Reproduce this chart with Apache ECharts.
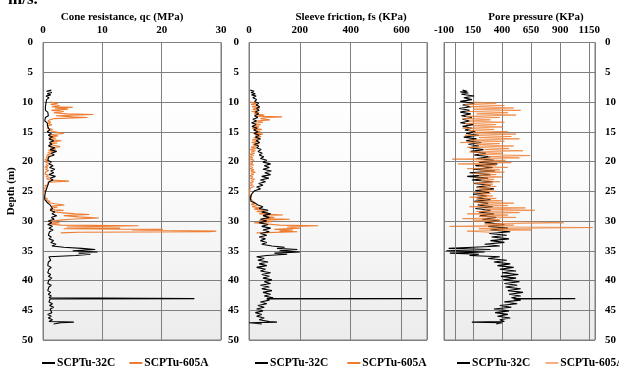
<!DOCTYPE html>
<html>
<head>
<meta charset="utf-8">
<script src="https://cdn.jsdelivr.net/npm/echarts@6/dist/echarts.min.js"></script>
<style>html,body{margin:0;padding:0;background:#fff}#c{width:619px;height:370px}</style>
</head>
<body>
<div id="c"></div>
<script>
const soundings = ['SCPTu-32C', 'SCPTu-605A'];
const panelTitles = ['Cone resistance, qc (MPa)', 'Sleeve friction, fs (KPa)', 'Pore pressure (KPa)'];
const depthLabel = 'Depth (m)';

// [depth (m), value]
const qc32C = [[8.0,1.4],[8.2,0.6],[8.4,1.5],[8.6,0.7],[8.8,1.3],[9.0,0.5],[9.3,1.0],[9.6,0.6],[9.9,0.9],[10.2,0.5],[10.5,0.8],[10.8,0.4],[11.1,0.7],[11.4,0.4],[11.7,0.8],[12.0,0.5],[12.3,0.9],[12.6,0.4],[12.9,0.6],[13.2,0.3],[13.5,0.7],[13.8,0.4],[14.1,0.8],[14.4,0.5],[14.7,1.1],[15.0,0.7],[15.3,1.4],[15.6,0.9],[15.9,1.6],[16.2,1.0],[16.5,1.8],[16.8,1.1],[17.1,1.5],[17.4,0.9],[17.7,2.0],[18.0,1.2],[18.3,2.3],[18.6,1.4],[18.9,1.9],[19.2,1.0],[19.5,1.3],[19.8,0.8],[20.1,1.4],[20.4,1.0],[20.7,1.7],[21.0,1.1],[21.3,2.0],[21.6,1.3],[21.9,1.8],[22.2,1.0],[22.5,2.1],[22.8,1.2],[23.1,1.7],[23.4,1.0],[23.7,1.3],[24.0,0.8],[24.3,1.0],[24.6,0.6],[24.9,0.7],[25.2,0.4],[25.5,0.5],[25.8,0.3],[26.1,0.4],[26.4,0.3],[26.7,0.6],[27.0,0.8],[27.3,1.2],[27.6,1.0],[27.9,1.6],[28.2,1.2],[28.5,2.0],[28.8,1.5],[29.1,2.3],[29.4,1.4],[29.7,1.9],[30.0,0.9],[30.3,1.5],[30.6,0.8],[30.9,1.6],[31.2,1.0],[31.5,1.7],[31.8,1.1],[32.1,1.3],[32.4,0.9],[32.7,1.4],[33.0,1.0],[33.3,1.8],[33.6,1.3],[33.9,2.2],[34.2,1.5],[34.4,3.5],[34.6,6.5],[34.8,8.8],[35.0,5.0],[35.2,9.2],[35.4,6.0],[35.6,8.0],[35.8,5.5],[36.0,1.0],[36.3,0.8],[36.6,1.3],[36.9,0.9],[37.2,1.2],[37.5,0.8],[37.8,1.4],[38.1,1.0],[38.4,1.2],[38.7,0.8],[39.0,1.3],[39.3,0.9],[39.6,1.5],[39.9,1.0],[40.2,1.3],[40.5,0.8],[40.8,1.4],[41.1,1.0],[41.4,1.2],[41.7,0.8],[42.0,1.3],[42.3,0.9],[42.6,1.4],[42.9,1.0],[43.0,1.2],[43.05,25.5],[43.1,1.2],[43.3,1.5],[43.6,1.0],[43.9,1.6],[44.2,1.1],[44.5,1.8],[44.8,1.2],[45.1,1.0],[45.4,1.5],[45.7,0.8],[46.0,1.4],[46.3,0.9],[46.6,1.6],[46.9,1.0],[47.0,5.2],[47.1,3.0],[47.3,1.8]];

const qc605A = [[10.0,1.2],[10.2,2.5],[10.4,1.3],[10.6,2.8],[10.8,1.5],[10.9,5.0],[11.0,2.0],[11.2,4.2],[11.4,1.4],[11.6,3.5],[11.8,1.8],[12.0,4.0],[12.1,8.5],[12.3,2.2],[12.5,5.0],[12.6,7.5],[12.8,1.8],[13.0,1.2],[13.2,0.8],[13.4,1.3],[13.6,0.7],[13.8,1.5],[14.0,0.9],[14.2,1.2],[14.4,0.7],[14.6,1.6],[14.8,1.0],[15.0,2.0],[15.3,3.5],[15.5,1.2],[15.7,2.5],[15.9,1.0],[16.1,2.2],[16.3,1.1],[16.5,3.1],[16.7,1.3],[16.9,2.4],[17.1,1.0],[17.3,2.0],[17.5,2.9],[17.7,1.2],[17.9,2.2],[18.1,0.9],[18.3,1.8],[18.5,0.8],[18.7,1.5],[18.9,0.6],[19.1,1.2],[19.3,0.5],[19.5,0.9],[19.7,0.3],[19.9,0.8],[20.1,0.4],[20.3,1.0],[20.5,0.5],[20.7,0.9],[20.9,0.3],[21.1,0.8],[21.3,0.4],[21.5,1.0],[21.7,0.5],[21.9,0.8],[22.1,0.3],[22.3,0.9],[22.5,0.5],[22.7,1.1],[22.9,0.6],[23.1,1.2],[23.3,4.4],[23.5,0.8],[23.7,0.5],[23.9,0.9],[24.1,0.3],[24.3,0.7],[24.5,0.2],[24.7,0.6],[24.9,0.2],[25.1,0.5],[25.3,0.1],[25.5,0.4],[25.7,0.2],[25.9,0.5],[26.1,0.3],[26.3,0.8],[26.5,0.4],[26.7,1.2],[26.9,0.8],[27.1,2.0],[27.3,3.6],[27.5,1.5],[27.7,2.4],[27.9,1.2],[28.1,2.0],[28.2,3.5],[28.4,1.5],[28.6,3.0],[28.8,5.5],[28.9,7.8],[29.1,3.5],[29.3,6.0],[29.5,9.4],[29.7,4.5],[29.9,2.5],[30.1,1.0],[30.3,2.8],[30.5,1.2],[30.7,3.0],[30.8,16.1],[31.0,4.0],[31.2,13.0],[31.3,3.5],[31.4,20.2],[31.5,15.0],[31.6,20.0],[31.7,29.2],[31.8,28.0],[31.9,6.0],[32.0,3.0]];

const fs32C = [[8.0,5],[8.2,20],[8.4,8],[8.6,25],[8.8,10],[9.0,28],[9.3,15],[9.6,30],[9.9,22],[10.2,38],[10.5,28],[10.8,42],[11.1,30],[11.4,40],[11.7,25],[12.0,38],[12.3,22],[12.6,35],[12.9,15],[13.2,30],[13.5,10],[13.8,28],[14.1,12],[14.4,32],[14.7,18],[15.0,35],[15.3,20],[15.6,40],[15.9,25],[16.2,45],[16.5,28],[16.8,42],[17.1,22],[17.4,38],[17.7,30],[18.0,48],[18.3,35],[18.6,52],[18.9,40],[19.2,58],[19.5,45],[19.8,70],[20.1,55],[20.4,85],[20.7,60],[21.0,80],[21.3,55],[21.6,88],[21.9,62],[22.2,85],[22.5,50],[22.8,78],[23.1,45],[23.4,65],[23.7,38],[24.0,55],[24.3,30],[24.6,45],[24.9,22],[25.2,25],[25.5,10],[25.8,15],[26.1,5],[26.4,12],[26.7,8],[27.0,25],[27.3,35],[27.6,55],[27.9,40],[28.2,75],[28.5,50],[28.8,85],[29.1,55],[29.4,80],[29.7,45],[30.0,70],[30.3,40],[30.6,75],[30.9,50],[31.2,85],[31.5,55],[31.8,80],[32.1,45],[32.4,70],[32.7,40],[33.0,65],[33.3,45],[33.6,70],[33.9,50],[34.2,90],[34.4,140],[34.6,110],[34.8,190],[35.0,120],[35.2,200],[35.4,100],[35.6,150],[35.8,70],[36.0,30],[36.3,60],[36.6,35],[36.9,75],[37.2,40],[37.5,70],[37.8,30],[38.1,65],[38.4,45],[38.7,85],[39.0,50],[39.3,80],[39.6,55],[39.9,90],[40.2,60],[40.5,85],[40.8,45],[41.1,80],[41.4,50],[41.7,90],[42.0,55],[42.3,85],[42.6,60],[42.9,95],[43.0,70],[43.05,680],[43.1,70],[43.3,80],[43.6,45],[43.9,70],[44.2,35],[44.5,60],[44.8,30],[45.1,55],[45.4,25],[45.7,50],[46.0,30],[46.3,60],[46.6,40],[46.9,80],[47.0,110],[47.1,0],[47.3,50]];

const fs605A = [[10.0,5],[10.2,30],[10.4,8],[10.6,38],[10.8,12],[11.0,42],[11.2,15],[11.4,35],[11.6,10],[11.8,40],[12.0,20],[12.2,60],[12.4,30],[12.5,130],[12.6,70],[12.8,45],[13.0,82],[13.2,30],[13.4,55],[13.6,20],[13.8,45],[14.0,15],[14.2,40],[14.4,12],[14.6,50],[14.8,20],[15.0,45],[15.2,15],[15.4,55],[15.6,25],[15.8,48],[16.0,18],[16.2,40],[16.4,12],[16.6,35],[16.8,10],[17.0,40],[17.2,15],[17.4,30],[17.6,8],[17.8,28],[18.0,5],[18.2,25],[18.4,8],[18.6,22],[18.8,3],[19.0,18],[19.2,2],[19.4,15],[19.6,5],[19.8,20],[20.0,3],[20.2,15],[20.4,5],[20.6,18],[20.8,2],[21.0,15],[21.2,4],[21.4,20],[21.6,6],[21.8,25],[22.0,8],[22.2,18],[22.4,4],[22.6,15],[22.8,5],[23.0,22],[23.2,8],[23.4,18],[23.6,3],[23.8,14],[24.0,5],[24.2,20],[24.4,6],[24.6,12],[24.8,3],[25.0,10],[25.2,2],[25.4,8],[25.6,2],[25.8,10],[26.0,3],[26.2,8],[26.4,2],[26.6,12],[26.8,5],[27.0,25],[27.2,8],[27.4,30],[27.6,12],[27.8,45],[28.0,20],[28.2,60],[28.4,30],[28.6,75],[28.8,40],[29.0,133],[29.2,60],[29.4,100],[29.6,50],[29.7,160],[29.9,40],[30.1,90],[30.3,20],[30.5,70],[30.7,120],[30.8,272],[31.0,150],[31.2,200],[31.4,100],[31.5,173],[31.7,120],[31.8,190],[32.0,30]];

const u32C = [[8.0,60],[8.2,100],[8.3,40],[8.5,110],[8.7,50],[9.0,160],[9.3,70],[9.6,140],[9.9,40],[10.2,160],[10.5,60],[10.8,130],[11.1,30],[11.4,120],[11.7,40],[12.0,130],[12.3,50],[12.6,140],[12.9,60],[13.2,120],[13.5,40],[13.8,150],[14.1,60],[14.4,140],[14.7,80],[15.0,170],[15.3,90],[15.6,200],[15.9,70],[16.2,180],[16.5,90],[16.8,220],[17.1,110],[17.4,200],[17.7,120],[18.0,240],[18.3,130],[18.6,260],[18.9,160],[19.2,300],[19.5,180],[19.8,330],[20.1,200],[20.4,360],[20.7,170],[21.0,320],[21.3,150],[21.6,340],[21.9,120],[22.2,300],[22.5,100],[22.8,280],[23.1,140],[23.4,320],[23.7,160],[24.0,300],[24.3,180],[24.6,330],[24.9,170],[25.2,290],[25.5,150],[25.8,270],[26.1,180],[26.4,300],[26.7,160],[27.0,280],[27.3,190],[27.6,320],[27.9,170],[28.2,300],[28.5,200],[28.8,330],[29.1,210],[29.4,350],[29.7,230],[30.0,380],[30.3,250],[30.6,420],[30.9,280],[31.2,450],[31.5,300],[31.8,470],[32.1,290],[32.4,440],[32.7,310],[33.0,460],[33.3,300],[33.6,420],[33.9,250],[34.2,380],[34.4,150],[34.6,-60],[34.8,300],[35.0,-80],[35.2,250],[35.4,-50],[35.6,200],[35.8,120],[36.0,380],[36.3,280],[36.6,440],[36.9,330],[37.2,470],[37.5,360],[37.8,500],[38.1,380],[38.4,520],[38.7,400],[39.0,540],[39.3,390],[39.6,520],[39.9,410],[40.2,550],[40.5,420],[40.8,530],[41.1,430],[41.4,560],[41.7,450],[42.0,580],[42.3,460],[42.6,560],[42.9,480],[43.0,520],[43.05,1030],[43.1,500],[43.3,560],[43.6,420],[43.9,530],[44.2,380],[44.5,480],[44.8,330],[45.1,460],[45.4,340],[45.7,450],[46.0,360],[46.3,470],[46.6,380],[46.9,420],[47.0,140],[47.1,400],[47.3,350]];

const u605A = [[10.0,150],[10.2,350],[10.4,80],[10.6,420],[10.8,120],[11.0,500],[11.2,150],[11.4,560],[11.6,100],[11.8,450],[12.0,180],[12.2,520],[12.4,90],[12.6,380],[12.8,60],[13.0,300],[13.2,120],[13.4,420],[13.6,80],[13.8,350],[14.0,150],[14.2,400],[14.4,60],[14.6,330],[14.8,110],[15.0,450],[15.2,150],[15.4,520],[15.6,80],[15.8,480],[16.0,200],[16.2,550],[16.4,120],[16.6,420],[16.8,40],[17.0,380],[17.2,180],[17.4,500],[17.6,100],[17.8,460],[18.0,250],[18.2,580],[18.4,120],[18.6,400],[18.8,200],[19.0,640],[19.2,280],[19.4,550],[19.6,-30],[19.8,430],[20.0,150],[20.2,480],[20.4,20],[20.6,350],[20.8,200],[21.0,450],[21.2,100],[21.4,380],[21.6,220],[21.8,420],[22.0,150],[22.2,350],[22.4,200],[22.6,400],[22.8,180],[23.0,330],[23.2,220],[23.4,380],[23.6,160],[23.8,320],[24.0,230],[24.2,350],[24.4,180],[24.6,300],[24.8,220],[25.0,340],[25.2,160],[25.4,300],[25.6,200],[25.8,320],[26.0,120],[26.2,350],[26.4,180],[26.6,400],[26.8,150],[27.0,500],[27.2,200],[27.4,450],[27.6,120],[27.8,600],[28.0,250],[28.2,680],[28.4,180],[28.6,550],[28.8,100],[29.0,450],[29.2,200],[29.4,520],[29.6,60],[29.8,380],[30.0,150],[30.2,700],[30.3,930],[30.5,250],[30.7,500],[30.9,-50],[31.0,400],[31.1,1180],[31.3,200],[31.5,650],[31.7,100],[31.9,300]];

const FONT = 'Liberation Serif';
const BLACK = '#000000';
const ORANGE = '#ED7D31';
const ORANGE_LIGHT = '#F4B183';

const chart = echarts.init(document.getElementById('c'), null, {renderer: 'canvas'});

const bg = new echarts.graphic.LinearGradient(0, 0, 0, 1, [
  {offset: 0, color: '#ffffff'},
  {offset: 0.45, color: '#fcfcfc'},
  {offset: 1, color: '#ececec'}
]);

const gridBase = {top: 42.5, height: 297.5, show: true, backgroundColor: bg, borderColor: '#7f7f7f', borderWidth: 1, containLabel: false};
const labelStyle = {fontFamily: FONT, fontWeight: 'bold', fontSize: 11, color: '#000'};
const splitStyle = {show: true, lineStyle: {color: '#7f7f7f', width: 1}};
const plainNum = v => String(v);

function xAx(gi, min, max, interval, showMax) {
  return {
    type: 'value', gridIndex: gi, position: 'top', min: min, max: max, interval: interval,
    axisLine: {show: false}, axisTick: {show: false},
    axisLabel: Object.assign({margin: 7, showMaxLabel: showMax, formatter: plainNum}, labelStyle),
    splitLine: splitStyle
  };
}
function yAx(gi, pos, extra) {
  return Object.assign({
    type: 'value', gridIndex: gi, inverse: true, min: 0, max: 50, interval: 5, position: pos,
    axisLine: {show: false}, axisTick: {show: false},
    axisLabel: Object.assign({margin: 10}, labelStyle), splitLine: splitStyle
  }, extra || {});
}
function toXY(arr) { return arr.map(d => [d[1], d[0]]); }
function ser(name, gi, data, color, width, opacity, extra) {
  return Object.assign({
    name: name, type: 'line', xAxisIndex: gi, yAxisIndex: gi, data: toXY(data),
    showSymbol: false, symbol: 'none', animation: false, silent: true,
    lineStyle: {color: color, width: width, opacity: opacity}, itemStyle: {color: color}
  }, extra || {});
}
function legendAt(left, gap, orangeColor) {
  return {
    left: left, top: 357, width: 240, padding: 0, orient: 'horizontal', itemGap: gap, itemWidth: 13, itemHeight: 2, icon: 'rect',
    selectedMode: false,
    textStyle: {fontFamily: FONT, fontWeight: 'bold', fontSize: 11.5, color: '#000', padding: [0, 0, 0, -3]},
    data: [
      {name: soundings[0], itemStyle: {color: BLACK}},
      {name: soundings[1], itemStyle: {color: orangeColor}}
    ]
  };
}

const titleFont = 'bold 11px "Liberation Serif"';
const option = {
  backgroundColor: '#ffffff',
  animation: false,
  grid: [
    Object.assign({left: 43, width: 178}, gridBase),
    Object.assign({left: 249, width: 178}, gridBase),
    Object.assign({left: 444, width: 152.5}, gridBase)
  ],
  xAxis: [
    xAx(0, 0, 30, 10, true),
    xAx(1, 0, 700, 200, false),
    xAx(2, -100, 1200, 250, false)
  ],
  yAxis: [
    yAx(0, 'left', {name: depthLabel, nameLocation: 'middle', nameGap: 26, nameRotate: 90,
      nameTextStyle: {fontFamily: FONT, fontWeight: 'bold', fontSize: 11, color: '#000'}}),
    yAx(1, 'left'),
    yAx(2, 'right')
  ],
  legend: [
    legendAt(42, 14, ORANGE),
    legendAt(255, 19, ORANGE),
    legendAt(457, 15, ORANGE_LIGHT)
  ],
  graphic: [
    {type: 'text', left: 8, top: -9, silent: true, style: {text: 'm/s.', font: 'bold 17px "Liberation Serif"', fill: '#000'}},
    {type: 'text', x: 122, y: 17, silent: true, style: {text: panelTitles[0], font: titleFont, fill: '#000', align: 'center', verticalAlign: 'middle'}},
    {type: 'text', x: 351, y: 17, silent: true, style: {text: panelTitles[1], font: titleFont, fill: '#000', align: 'center', verticalAlign: 'middle'}},
    {type: 'text', x: 536, y: 17, silent: true, style: {text: panelTitles[2], font: titleFont, fill: '#000', align: 'center', verticalAlign: 'middle'}}
  ],
  series: [
    ser(soundings[1], 0, qc605A, ORANGE, 1.1, 1),
    ser(soundings[0], 0, qc32C, BLACK, 1.1, 1),
    ser(soundings[1], 1, fs605A, ORANGE, 1.1, 1),
    ser(soundings[0], 1, fs32C, BLACK, 1.1, 1),
    ser(soundings[0], 2, u32C, BLACK, 1.1, 1, {
      markLine: {silent: true, symbol: 'none', label: {show: false}, animation: false,
        lineStyle: {color: '#7f7f7f', width: 1, type: 'solid'}, data: [{xAxis: 0}]}
    }),
    ser(soundings[1], 2, u605A, ORANGE, 1, 0.75)
  ]
};
chart.setOption(option);
</script>
</body>
</html>
